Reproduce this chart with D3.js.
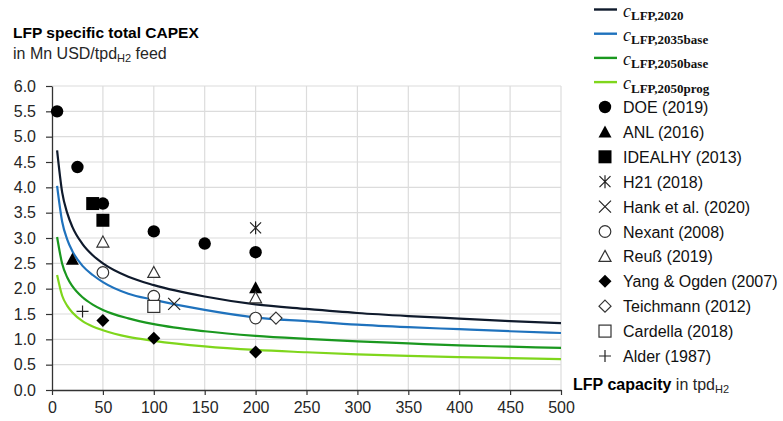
<!DOCTYPE html>
<html><head><meta charset="utf-8">
<script src="https://cdn.jsdelivr.net/npm/d3@7"></script>
<style>
html,body{margin:0;padding:0;background:#fff;}
svg{display:block;font-family:"Liberation Sans",Arial,sans-serif;}
</style></head>
<body><svg id="chart" width="783" height="421"></svg>
<script>
// ---- data ----
const capacities = [5,10,15,20,30,40,50,75,100,150,200,250,300,350,400,450,500];
const curve2020     = [4.73,3.90,3.49,3.22,2.88,2.66,2.50,2.235,2.07,1.845,1.69,1.60,1.52,1.46,1.41,1.36,1.32];
const curve2035base = [4.03,3.32,2.97,2.74,2.45,2.27,2.13,1.90,1.78,1.58,1.43,1.36,1.29,1.24,1.20,1.16,1.125];
const curve2050base = [3.02,2.49,2.22,2.05,1.83,1.686,1.58,1.413,1.30,1.16,1.07,1.01,0.96,0.92,0.88,0.855,0.83];
const curve2050prog = [2.27,1.86,1.66,1.53,1.36,1.254,1.18,1.048,0.97,0.86,0.79,0.745,0.705,0.675,0.65,0.63,0.61];
const curveNames = ["LFP,2020","LFP,2035base","LFP,2050base","LFP,2050prog"];
const curveColors = ["#0f1a2c","#1f72bd","#1a981f","#7fd61c"];

const sourceNames = ["DOE (2019)","ANL (2016)","IDEALHY (2013)","H21 (2018)","Hank et al. (2020)","Nexant (2008)","Reuß (2019)","Yang & Ogden (2007)","Teichmann (2012)","Cardella (2018)","Alder (1987)"];
const sourceShapes = ["circleF","triF","squareF","star","cross","circleO","triO","diamondF","diamondO","squareO","plus"];
const DOE      = [[5,5.5],[25,4.4],[50,3.68],[100,3.13],[150,2.89],[200,2.72]];
const ANL      = [[20,2.58],[200,2.02]];
const IDEALHY  = [[40,3.68],[50,3.35]];
const H21      = [[200,3.2]];
const Hank     = [[120,1.7]];
const Nexant   = [[50,2.32],[100,1.85],[200,1.42]];
const Reuss    = [[50,2.92],[100,2.32],[200,1.82]];
const YangOgden= [[50,1.37],[100,1.02],[200,0.75]];
const Teichmann= [[220,1.42]];
const Cardella = [[100,1.65]];
const Alder    = [[30,1.55]];
const sourceData = [DOE,ANL,IDEALHY,H21,Hank,Nexant,Reuss,YangOgden,Teichmann,Cardella,Alder];

const xTicks = [0,50,100,150,200,250,300,350,400,450,500];
const yTicks = [0,0.5,1,1.5,2,2.5,3,3.5,4,4.5,5,5.5,6];

// ---- layout ----
const svg = d3.select("#chart");
const L = 52, R = 561, T = 86, B = 390;
const x = d3.scaleLinear().domain([0,500]).range([L,R]);
const y = d3.scaleLinear().domain([0,6]).range([B,T]);
const txt = "#262626";

// gridlines
const g = svg.append("g");
g.selectAll("line.gx").data(xTicks.filter(d=>d>0)).join("line")
  .attr("x1",d=>x(d)).attr("x2",d=>x(d)).attr("y1",T).attr("y2",B)
  .attr("stroke","#dcdcdc").attr("stroke-width",1.2);
g.selectAll("line.gy").data(yTicks.filter(d=>d>0)).join("line")
  .attr("x1",L).attr("x2",R).attr("y1",d=>y(d)).attr("y2",d=>y(d))
  .attr("stroke","#dcdcdc").attr("stroke-width",1.2);

// axes
const xAxis = svg.append("g").attr("transform",`translate(0,${B})`)
  .call(d3.axisBottom(x).tickValues(xTicks).tickFormat(d3.format("d")).tickSize(5).tickSizeOuter(0));
const yAxis = svg.append("g").attr("transform",`translate(${L},0)`)
  .call(d3.axisLeft(y).tickValues(yTicks).tickFormat(d3.format(".1f")).tickSize(6).tickSizeOuter(0));
[xAxis,yAxis].forEach(a=>{
  a.select(".domain").attr("stroke","#333").attr("stroke-width",1.3);
  a.selectAll(".tick line").attr("stroke","#333").attr("stroke-width",1.2);
  a.selectAll(".tick text").attr("fill",txt).style("font-size","16px").style("font-family","'Liberation Sans',Arial,sans-serif");
});
xAxis.selectAll(".tick text").attr("y",12);
yAxis.selectAll(".tick text").attr("x",-16);

// curves
const line = d3.line().x(d=>x(d[0])).y(d=>y(d[1])).curve(d3.curveMonotoneX);
[curve2020,curve2035base,curve2050base,curve2050prog].forEach((c,i)=>{
  svg.append("path").datum(capacities.map((cap,j)=>[cap,c[j]]))
    .attr("d",line).attr("fill","none").attr("stroke",curveColors[i]).attr("stroke-width",2.2);
});

// marker drawing
function drawMarker(sel, shape){
  const s = 6;
  if(shape==="circleF") sel.append("circle").attr("r",6.2).attr("fill","#000");
  else if(shape==="circleO") sel.append("circle").attr("r",5.8).attr("fill","#fff").attr("stroke","#333").attr("stroke-width",1.2);
  else if(shape==="triF") sel.append("path").attr("d","M0,-6.5L6.5,5.5L-6.5,5.5Z").attr("fill","#000");
  else if(shape==="triO") sel.append("path").attr("d","M0,-6L6,5L-6,5Z").attr("fill","#fff").attr("stroke","#333").attr("stroke-width",1.2);
  else if(shape==="squareF") sel.append("rect").attr("x",-6.5).attr("y",-6.5).attr("width",13).attr("height",13).attr("fill","#000");
  else if(shape==="squareO") sel.append("rect").attr("x",-6).attr("y",-6).attr("width",12).attr("height",12).attr("fill","#fff").attr("stroke","#333").attr("stroke-width",1.2);
  else if(shape==="diamondF") sel.append("path").attr("d","M0,-6.5L6.5,0L0,6.5L-6.5,0Z").attr("fill","#000");
  else if(shape==="diamondO") sel.append("path").attr("d","M0,-6L6,0L0,6L-6,0Z").attr("fill","#fff").attr("stroke","#333").attr("stroke-width",1.2);
  else if(shape==="plus") sel.append("path").attr("d","M-6,0H6M0,-6V6").attr("stroke","#222").attr("stroke-width",1.2);
  else if(shape==="cross") sel.append("path").attr("d","M-6,-6L6,6M6,-6L-6,6").attr("stroke","#222").attr("stroke-width",1.2);
  else if(shape==="star") sel.append("path").attr("d","M-5.5,-5.5L5.5,5.5M5.5,-5.5L-5.5,5.5M0,-6.5V6.5").attr("stroke","#222").attr("stroke-width",1.2);
}
sourceData.forEach((pts,i)=>{
  pts.forEach(p=>{
    const m = svg.append("g").attr("transform",`translate(${x(p[0])},${y(p[1])})`);
    drawMarker(m, sourceShapes[i]);
  });
});

// titles
svg.append("text").attr("x",13).attr("y",38).attr("fill","#000")
  .style("font-size","15.5px").style("font-weight","bold").text("LFP specific total CAPEX");
const sub = svg.append("text").attr("x",13).attr("y",59).attr("fill",txt).style("font-size","16px");
sub.append("tspan").text("in Mn USD/tpd");
sub.append("tspan").attr("dy",3).style("font-size","11px").text("H2");
sub.append("tspan").attr("dy",-3).text(" feed");

const xl = svg.append("text").attr("x",573).attr("y",390).attr("fill","#000").style("font-size","16px");
xl.append("tspan").style("font-weight","bold").text("LFP capacity");
xl.append("tspan").attr("fill",txt).text(" in tpd");
xl.append("tspan").attr("fill",txt).attr("dy",3).style("font-size","11px").text("H2");

// legend: curves
const lg = svg.append("g");
curveNames.forEach((n,i)=>{
  const yy = 9.5 + i*24.2;
  lg.append("line").attr("x1",594).attr("x2",617).attr("y1",yy).attr("y2",yy)
    .attr("stroke",curveColors[i]).attr("stroke-width",2.4);
  const t = lg.append("text").attr("x",623).attr("y",yy+7).attr("fill","#111")
    .style("font-family","'Liberation Serif','DejaVu Serif',serif");
  t.append("tspan").style("font-style","italic").style("font-size","18px").text("c");
  t.append("tspan").attr("dy",3.5).style("font-weight","bold").style("font-size","13px").text(n);
});
// legend: sources
sourceNames.forEach((n,i)=>{
  const yy = 107 + i*24.9;
  const m = lg.append("g").attr("transform",`translate(605,${yy})`);
  drawMarker(m, sourceShapes[i]);
  lg.append("text").attr("x",623).attr("y",yy+6).attr("fill","#111").style("font-size","16px").text(n);
});
</script></body></html>
